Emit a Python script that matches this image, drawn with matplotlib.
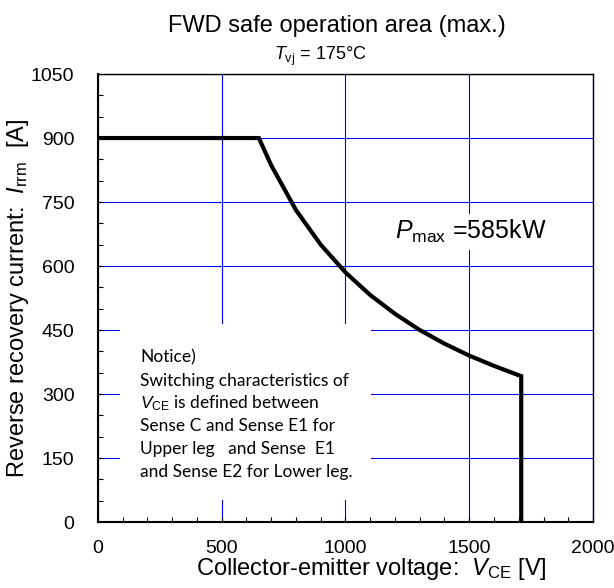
import matplotlib
matplotlib.use('Agg')
from matplotlib import pyplot as plt
from matplotlib.patches import Rectangle
from matplotlib.ticker import MultipleLocator

plt.rcParams['font.family'] = ['Liberation Sans', 'DejaVu Sans']
plt.rcParams['mathtext.fontset'] = 'custom'
plt.rcParams['mathtext.rm'] = 'Liberation Sans'
plt.rcParams['mathtext.it'] = 'Liberation Sans:italic'

# SOA boundary
vce = [0, 650, 700, 800, 900, 1000, 1100, 1200, 1300, 1400, 1500, 1600, 1700, 1710, 1710]
irrm = [900, 900, 836, 731, 650, 585, 532, 488, 450, 418, 390, 366, 344, 342, 0]

notice_lines = [
    'Notice)',
    'Switching characteristics of',
    '$\\mathit{V}_{\\rm CE}$ is defined between',
    'Sense C and Sense E1 for',
    'Upper leg   and Sense  E1',
    'and Sense E2 for Lower leg.',
]

fig = plt.figure(figsize=(6.14, 5.88), dpi=100)
ax = fig.add_axes([0.1596, 0.1122, 0.8062, 0.7619])

ax.set_xlim(0, 2000)
ax.set_ylim(0, 1050)
ax.xaxis.set_major_locator(MultipleLocator(500))
ax.xaxis.set_minor_locator(MultipleLocator(100))
ax.yaxis.set_major_locator(MultipleLocator(150))
ax.yaxis.set_minor_locator(MultipleLocator(50))
ax.tick_params(which='both', direction='in', top=False, right=False,
               labelsize=14, length=3.5, width=0.8)
ax.tick_params(axis='x', pad=13)
ax.tick_params(axis='y', pad=17)
ax.grid(True, which='major', color='#0000ff', lw=0.8)
ax.set_axisbelow(True)
for side in ['left', 'bottom']:
    ax.spines[side].set_linewidth(1.5)
for side in ['top', 'right']:
    ax.spines[side].set_linewidth(1.0)

# white panel behind the notice
ax.add_patch(Rectangle((90, 52), 1012, 412, facecolor='white', edgecolor='none', zorder=2))

ax.plot(vce, irrm, color='black', lw=3, zorder=3, solid_joinstyle='miter')

ax.text(1200, 663, '$\\mathit{P}_{\\rm max}$ =585kW', fontsize=18,
        ha='left', va='baseline', zorder=4,
        bbox=dict(facecolor='white', edgecolor='none', pad=3))

for i, line in enumerate(notice_lines):
    ax.text(170, 373 - i * 53.4, line, fontsize=12.5, family=['Lato', 'DejaVu Sans'],
            ha='left', va='baseline', zorder=4)

ax.set_xlabel('Collector-emitter voltage:  $\\mathit{V}_{\\rm CE}$ [V]', fontsize=17, labelpad=0)
ax.xaxis.set_label_coords(0.553, -0.075)
ax.set_ylabel('Reverse recovery current:  $\\mathit{I}_{\\rm rrm}$  [A]', fontsize=17, labelpad=0)

fig.text(0.549, 0.9456, 'FWD safe operation area (max.)', fontsize=17, ha='center', va='baseline')
fig.text(0.521, 0.898, '$\\mathit{T}_{\\rm vj}$ = 175°C', fontsize=13, ha='center', va='baseline')

fig.savefig('out.png', dpi=100)
